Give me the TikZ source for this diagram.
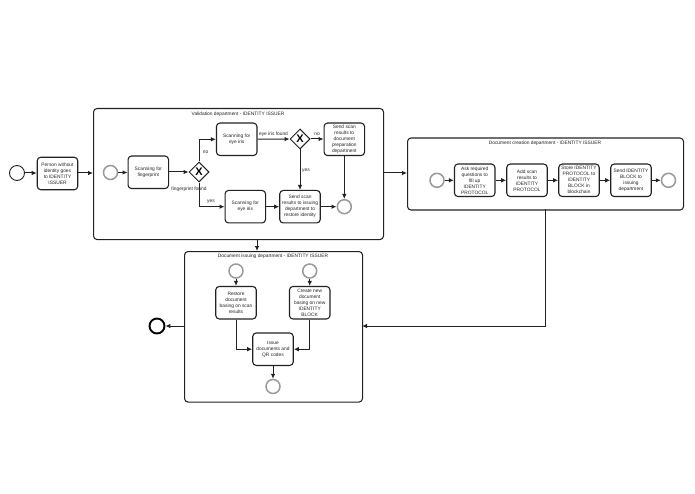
\documentclass[tikz,border=0pt]{standalone}
\usepackage{fontspec}
\setmainfont{Liberation Sans}
\usetikzlibrary{arrows.meta,shapes.geometric}
\definecolor{ink}{HTML}{222222}
\definecolor{ring}{HTML}{999999}
\tikzset{
  x=1pt,y=-1pt,
  lbl/.style={font=\fontsize{4.85}{6}\selectfont,text=ink,inner sep=0pt,align=center},
  pool/.style={draw=ink,line width=1.05pt,rounded corners=3.5pt,inner sep=0pt,anchor=north west},
  task/.style={draw=ink,line width=1.1pt,rounded corners=3.5pt,minimum width=40.5pt,minimum height=32.5pt,inner sep=0pt,lbl},
  startev/.style={circle,draw=ink,line width=0.9pt,minimum size=15pt,inner sep=0pt,fill=white},
  subev/.style={circle,draw=ring,line width=1.5pt,minimum size=14pt,inner sep=0pt,fill=white},
  endev/.style={circle,draw=black,line width=1.9pt,minimum size=15pt,inner sep=0pt,fill=white},
  gate/.style={diamond,aspect=1,draw=ink,line width=1pt,minimum size=20pt,inner sep=0pt,fill=white,
    label={[font=\bfseries\fontsize{11}{11}\selectfont,inner sep=0pt,text=black]center:X}},
  flow/.style={draw=ink,line width=1pt,-{Latex[length=5pt,width=4.6pt]}},
}
\begin{document}
\begin{tikzpicture}
\useasboundingbox (0,0) rectangle (695,494);
% containers
\node[pool,minimum width=290pt,minimum height=131pt] (val) at (93,108) {};
\node[pool,minimum width=276pt,minimum height=72pt] (doc) at (407,137.5) {};
\node[pool,minimum width=178pt,minimum height=150.5pt] (iss) at (184,251) {};
\node[lbl] (valt) at (238,114) {Validation department - IDENTITY ISSUER};
\node[lbl] (doct) at (545,143.3) {Document creation department - IDENTITY ISSUER};
\node[lbl] (isst) at (273,256.7) {Document issuing department - IDENTITY ISSUER};
% outer
\node[startev] (s0) at (17,173) {};
\node[task] (person) at (57.5,173.5) {Person without\\identity goes\\to IDENTITY\\ISSUER};
\node[endev] (e0) at (157,326) {};
% validation
\node[subev] (s1) at (110.5,172.5) {};
\node[task] (fing) at (148.3,172.3) {Scanning for\\fingerprint};
\node[gate] (g1) at (199,172) {};
\node[task] (eye1) at (236.7,139.3) {Scanning for\\eye iris};
\node[gate] (g2) at (300,139) {};
\node[task] (sendno) at (344.3,139.3) {Send scan\\results to\\document\\preparation\\department};
\node[task] (eye2) at (245.3,206.7) {Scanning for\\eye iris};
\node[task] (sendyes) at (300,206.7) {Send scan\\results to issuing\\department to\\restore identity};
\node[subev] (e1) at (344.3,206.7) {};
% creation
\node[subev] (s2) at (437,180.3) {};
\node[task] (ask) at (474.7,180.3) {Ask required\\questions to\\fill up\\IDENTITY\\PROTOCOL};
\node[task] (add) at (527,180.3) {Add scan\\results to\\IDENTITY\\PROTOCOL};
\node[task] (store) at (579,180.3) {Store IDENTITY\\PROTOCOL to\\IDENTITY\\BLOCK in\\blockchain};
\node[task] (sendb) at (631,180.3) {Send IDENTITY\\BLOCK to\\issuing\\department};
\node[subev] (e2) at (668.5,180.3) {};
% issuing
\node[subev] (s3) at (236,271) {};
\node[subev] (s4) at (309.7,271) {};
\node[task] (restore) at (236,302.7) {Restore\\document\\basing on scan\\results};
\node[task] (create) at (309.7,302.7) {Create new\\document\\basing on new\\IDENTITY\\BLOCK};
\node[task] (issue) at (273,349.2) {Issue\\documents and\\QR codes};
\node[subev] (e3) at (273,386.5) {};
% helper points
\coordinate (dcb) at (545,209.5);
\coordinate (dcc) at (545,326);
\coordinate (isr) at (362,326);
\coordinate (isl) at (184,326);
\coordinate (vb) at (257,239);
\coordinate (ib) at (257,251);
\coordinate (vr) at (383,173);
\coordinate (dl) at (407,173);
\coordinate (vl) at (93,173);
% flows
\draw[flow] (s0) -- (person.west |- s0);
\draw[flow] (person.east |- vl) -- (vl);
\draw[flow] (vr) -- (dl);
\draw[flow] (vb) -- (ib);
\draw[flow] (dcb) -- (dcc) -- (isr);
\draw[flow] (isl) -- (e0);
\draw[flow] (s1) -- (fing.west |- s1);
\draw[flow] (fing.east |- g1) -- (g1);
\draw[flow] (g1) |- (eye1);
\draw[flow] (g1) |- (eye2);
\draw[flow] (eye1) -- (g2);
\draw[flow] (g2) -- (sendno.west |- g2);
\draw[flow] (g2) -- (sendyes);
\draw[flow] (eye2) -- (sendyes);
\draw[flow] (sendyes) -- (e1);
\draw[flow] (sendno) -- (e1);
\draw[flow] (s2) -- (ask);
\draw[flow] (ask) -- (add);
\draw[flow] (add) -- (store);
\draw[flow] (store) -- (sendb);
\draw[flow] (sendb) -- (e2);
\draw[flow] (s3) -- (restore);
\draw[flow] (s4) -- (create);
\draw[flow] (restore) |- (issue);
\draw[flow] (create) |- (issue);
\draw[flow] (issue) -- (e3);
% flow labels
\node[lbl] (lno1) at (205.5,152) {no};
\node[lbl] (lyes1) at (211,202) {yes};
\node[lbl] (lfp) at (189,189) {fingerprint found};
\node[lbl] (lfound) at (273.5,134.5) {eye iris found};
\node[lbl] (lno2) at (317,134.5) {no};
\node[lbl] (lyes2) at (306,171) {yes};
\end{tikzpicture}
\end{document}
